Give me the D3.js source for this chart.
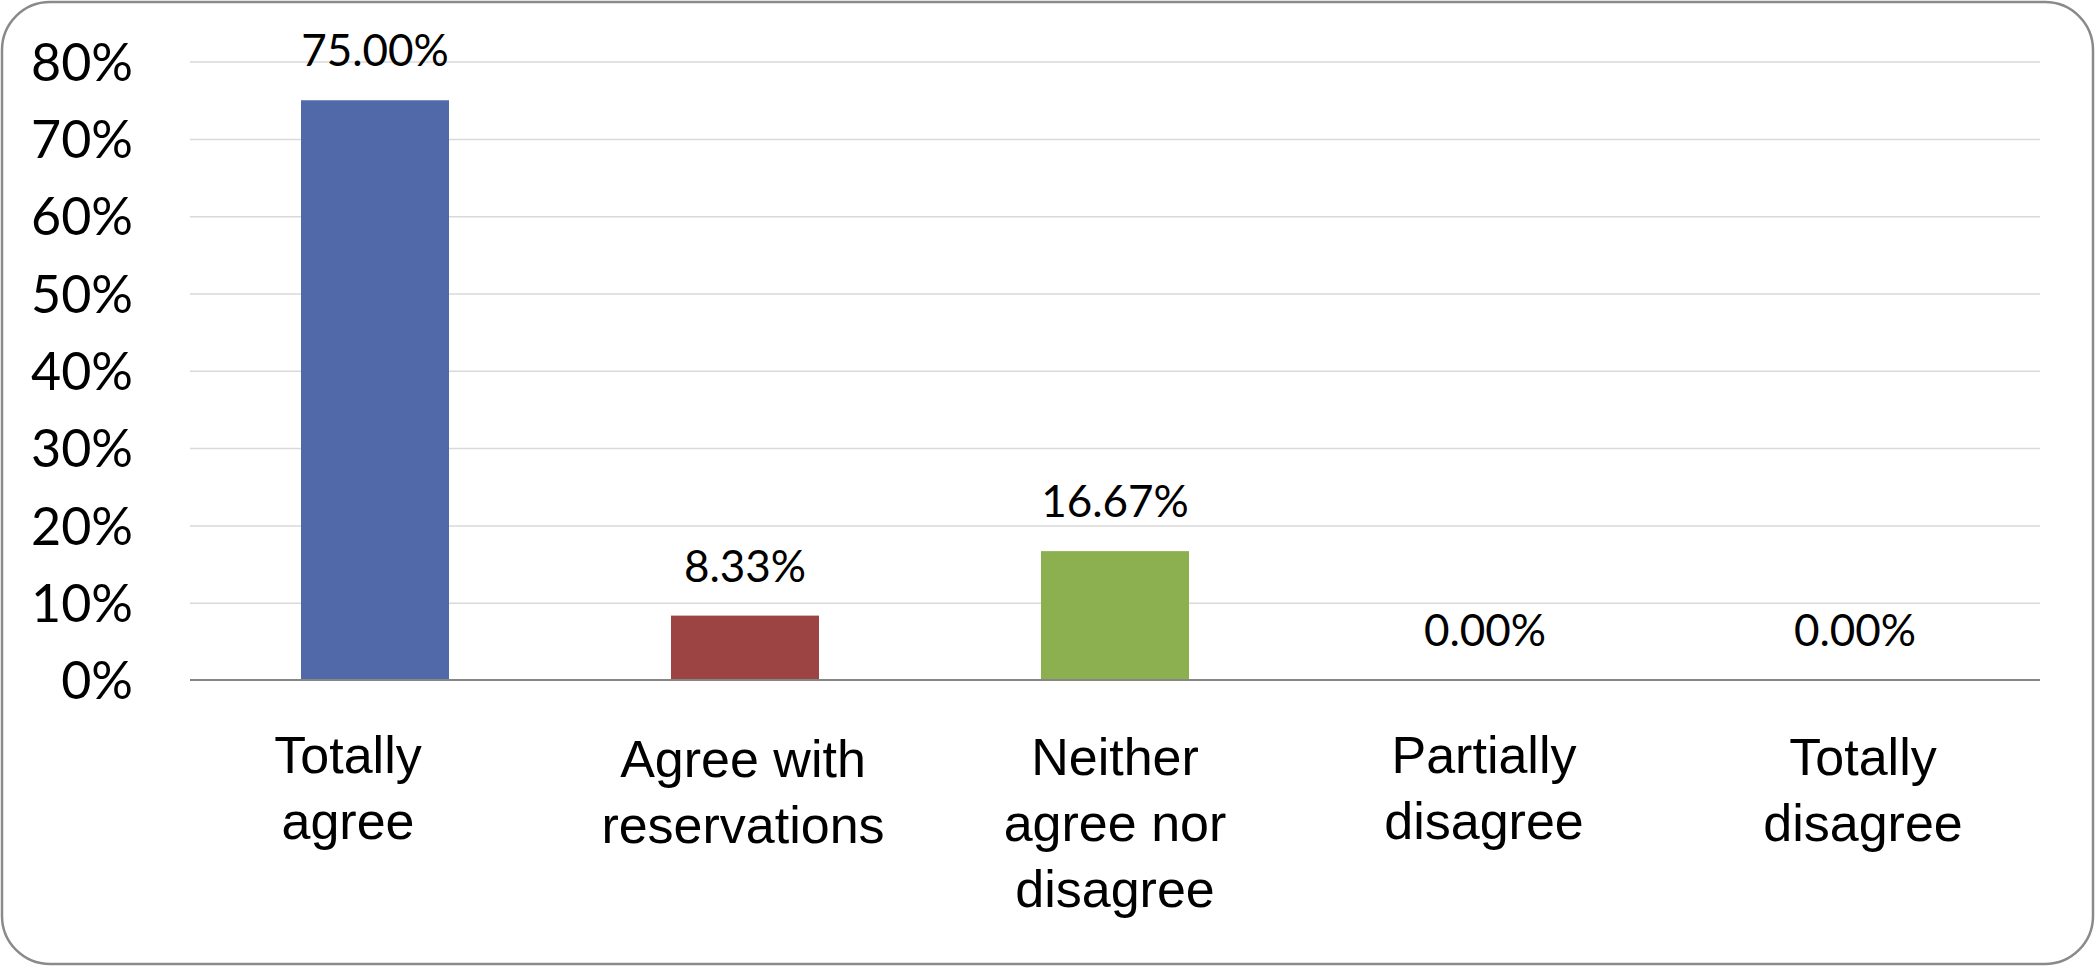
<!DOCTYPE html>
<html>
<head>
<meta charset="utf-8">
<script src="https://cdn.jsdelivr.net/npm/d3@7"></script>
<style>
  html, body { margin: 0; padding: 0; background: #ffffff; }
  svg { display: block; }
</style>
</head>
<body>
<svg id="chart" width="2096" height="967"></svg>
<script>
// ---- Data ----
const categories = [
  ["Totally", "agree"],
  ["Agree with", "reservations"],
  ["Neither", "agree nor", "disagree"],
  ["Partially", "disagree"],
  ["Totally", "disagree"]
];
const categoryKeys = ["Totally agree", "Agree with reservations", "Neither agree nor disagree", "Partially disagree", "Totally disagree"];
const values = [0.75, 0.0833, 0.1667, 0.0, 0.0];
const valueLabels = ["75.00%", "8.33%", "16.67%", "0.00%", "0.00%"];
const barColors = ["#5169A8", "#9C4343", "#8CAF4F", "#8064A2", "#4BACC6"];
const yTicks = [0, 0.1, 0.2, 0.3, 0.4, 0.5, 0.6, 0.7, 0.8];

// ---- Layout ----
const svg = d3.select("#chart");
const W = 2096, H = 967;
const plot = { left: 190, right: 2040, top: 61.6, bottom: 680 };
const labelNudge = [-27, -2, 0, -1, 8];     // horizontal offsets of wrapped category labels
const labelBaseline = [773, 777, 775, 773, 775];

// Outer rounded border
svg.append("rect")
  .attr("x", 2).attr("y", 2)
  .attr("width", W - 4 - 1).attr("height", H - 4 - 1)
  .attr("rx", 48).attr("ry", 48)
  .attr("fill", "#ffffff")
  .attr("stroke", "#8a8a8a")
  .attr("stroke-width", 2.5);

const x = d3.scaleBand()
  .domain(categoryKeys)
  .range([plot.left, plot.right])
  .paddingInner(0.6)
  .paddingOuter(0.3);

const y = d3.scaleLinear()
  .domain([0, 0.8])
  .range([plot.bottom, plot.top]);

// Gridlines
const grid = svg.append("g")
  .attr("transform", `translate(${plot.left},0)`)
  .call(d3.axisLeft(y).tickValues(yTicks.slice(1)).tickSize(-(plot.right - plot.left)).tickFormat(""));
grid.select(".domain").remove();
grid.selectAll(".tick line").attr("stroke", "#d9d9d9").attr("stroke-width", 1.5);

// Y axis labels
const yAxis = svg.append("g")
  .attr("transform", `translate(133,0)`)
  .call(d3.axisLeft(y).tickValues(yTicks).tickSize(0).tickPadding(0).tickFormat(d3.format(".0%")));
yAxis.select(".domain").remove();
yAxis.selectAll(".tick text")
  .attr("font-family", "Lato, 'Open Sans', sans-serif")
  .attr("font-size", 52)
  .attr("fill", "#000")
  .attr("dy", "0.36em");

// Bars
svg.append("g").selectAll("rect")
  .data(values)
  .join("rect")
  .attr("x", (d, i) => x(categoryKeys[i]))
  .attr("width", x.bandwidth())
  .attr("y", d => y(d))
  .attr("height", d => y(0) - y(d))
  .attr("fill", (d, i) => barColors[i]);

// X axis line
svg.append("line")
  .attr("x1", plot.left).attr("x2", plot.right)
  .attr("y1", y(0)).attr("y2", y(0))
  .attr("stroke", "#868686").attr("stroke-width", 2);

// Data labels
svg.append("g").selectAll("text")
  .data(values)
  .join("text")
  .attr("x", (d, i) => x(categoryKeys[i]) + x.bandwidth() / 2)
  .attr("y", d => y(d) - 34)
  .attr("text-anchor", "middle")
  .attr("font-family", "Lato, 'Open Sans', sans-serif")
  .attr("font-size", 44)
  .attr("fill", "#000")
  .text((d, i) => valueLabels[i]);

// Category labels
const catG = svg.append("g");
categories.forEach((lines, i) => {
  const cx = x(categoryKeys[i]) + x.bandwidth() / 2 + labelNudge[i];
  const t = catG.append("text")
    .attr("x", cx)
    .attr("y", labelBaseline[i])
    .attr("text-anchor", "middle")
    .attr("font-family", "'Liberation Sans', Arial, Helvetica, sans-serif")
    .attr("font-size", 52)
    .attr("fill", "#000");
  lines.forEach((ln, j) => {
    t.append("tspan").attr("x", cx).attr("dy", j === 0 ? 0 : 66).text(ln);
  });
});
</script>
</body>
</html>
